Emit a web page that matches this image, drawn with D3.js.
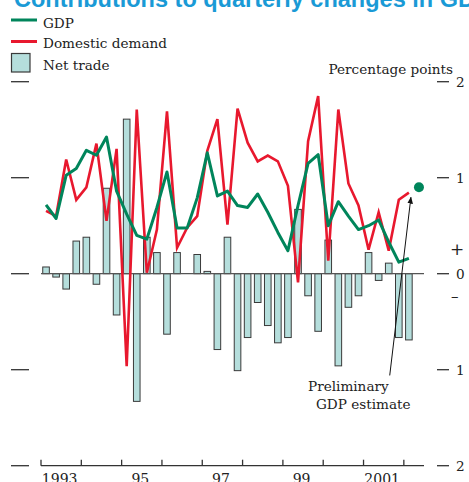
<!DOCTYPE html>
<html>
<head>
<meta charset="utf-8">
<script src="https://cdn.jsdelivr.net/npm/d3@7"></script>
<style>
  html, body { margin: 0; padding: 0; background: #fff; }
  svg { display: block; }
</style>
</head>
<body>
<svg id="chart" width="469" height="482"></svg>
<script>
// ---------- data ----------
const quarters = [
  "1993Q1","1993Q2","1993Q3","1993Q4","1994Q1","1994Q2","1994Q3","1994Q4",
  "1995Q1","1995Q2","1995Q3","1995Q4","1996Q1","1996Q2","1996Q3","1996Q4",
  "1997Q1","1997Q2","1997Q3","1997Q4","1998Q1","1998Q2","1998Q3","1998Q4",
  "1999Q1","1999Q2","1999Q3","1999Q4","2000Q1","2000Q2","2000Q3","2000Q4",
  "2001Q1","2001Q2","2001Q3","2001Q4","2002Q1"
];
const netTrade = [0.07,-0.035,-0.16,0.34,0.38,-0.11,0.89,-0.43,1.61,-1.33,0.38,0.22,-0.63,0.22,0,0.20,0.024,-0.79,0.38,-1.01,-0.665,-0.30,-0.54,-0.72,-0.665,0.67,-0.23,-0.60,0.35,-0.96,-0.35,-0.23,0.22,-0.07,0.11,-0.665,-0.69];
const gdp = [0.717,0.575,1.026,1.095,1.285,1.234,1.424,0.86,0.62,0.40,0.36,0.69,1.06,0.475,0.475,0.79,1.26,0.81,0.86,0.71,0.69,0.83,0.64,0.43,0.24,0.71,1.15,1.24,0.50,0.75,0.60,0.46,0.50,0.56,0.33,0.12,0.16];
const domesticDemand = [0.655,0.60,1.19,0.77,0.90,1.355,0.55,1.30,-0.963,1.71,0.01,0.46,1.69,0.27,0.48,0.60,1.28,1.61,0.51,1.72,1.365,1.17,1.23,1.17,0.915,-0.09,1.38,1.85,0.135,1.71,0.94,0.71,0.25,0.64,0.24,0.77,0.845];
const preliminary = { quarter: "2002Q2", value: 0.90 };
const yearTicks = [1993,1994,1995,1996,1997,1998,1999,2000,2001,2002];
const yearLabels = [
  { year: 1993, label: "1993" }, { year: 1995, label: "95" },
  { year: 1997, label: "97" }, { year: 1999, label: "99" },
  { year: 2001, label: "2001" }
];
const yTicks = [-2,-1,0,1,2];
const yTickLabels = ["2","1","0","1","2"];

// ---------- layout ----------
const svg = d3.select("#chart");
const serif = "'DejaVu Serif', serif";
const fs = 13.6;
const colGreen = "#00855b", colRed = "#e8182e", barFill = "#b5dedc", barStroke = "#3a3a3a";

const qToNum = q => +q.slice(0,4) + (+q.slice(5) - 0.5) / 4;
const x = d3.scaleLinear().domain([1993, 2002.5]).range([41, 424]);
const y = d3.scaleLinear().domain([-2, 2]).range([465.7, 81.7]);

// title (cut off at top)
svg.append("text")
  .attr("x", 14).attr("y", 6.5)
  .attr("font-family", "'Liberation Sans', Arial, sans-serif")
  .attr("font-weight", "bold").attr("font-size", 23.5)
  .attr("fill", "#1a9ad6")
  .text("Contributions to quarterly changes in GDP");

// legend
const lg = svg.append("g").attr("font-family", serif).attr("font-size", fs).attr("fill", "#222");
lg.append("line").attr("x1", 11).attr("x2", 37).attr("y1", 20).attr("y2", 20).attr("stroke", colGreen).attr("stroke-width", 3);
lg.append("text").attr("x", 43).attr("y", 27.5).text("GDP");
lg.append("line").attr("x1", 11).attr("x2", 37).attr("y1", 41.5).attr("y2", 41.5).attr("stroke", colRed).attr("stroke-width", 3);
lg.append("text").attr("x", 43).attr("y", 48).text("Domestic demand");
lg.append("rect").attr("x", 11.5).attr("y", 53.5).attr("width", 18.5).attr("height", 18.5).attr("fill", barFill).attr("stroke", barStroke).attr("stroke-width", 1.2);
lg.append("text").attr("x", 43).attr("y", 69.5).text("Net trade");

svg.append("text").attr("x", 453).attr("y", 74).attr("text-anchor", "end")
  .attr("font-family", serif).attr("font-size", fs).attr("fill", "#222")
  .text("Percentage points");

// y ticks left & right
const yt = svg.append("g").attr("stroke", "#333").attr("stroke-width", 1.3);
yTicks.forEach(v => {
  yt.append("line").attr("x1", 11).attr("x2", 29).attr("y1", y(v)).attr("y2", y(v));
  yt.append("line").attr("x1", 437).attr("x2", 449).attr("y1", y(v)).attr("y2", y(v));
});
const ytl = svg.append("g").attr("font-family", serif).attr("font-size", fs).attr("fill", "#222");
yTicks.forEach((v, i) => {
  ytl.append("text").attr("x", 456).attr("y", y(v) + 5).text(yTickLabels[i]);
});
ytl.append("text").attr("x", 450).attr("y", 255).attr("font-size", 17).text("+");
ytl.append("text").attr("x", 451).attr("y", 301).attr("font-size", 15).text("–");

// bars
const bw = 6.6;
svg.append("g").selectAll("rect").data(netTrade).join("rect")
  .attr("x", (d, i) => x(qToNum(quarters[i])) - bw / 2)
  .attr("y", d => y(Math.max(0, d)))
  .attr("width", bw)
  .attr("height", d => Math.abs(y(d) - y(0)))
  .attr("fill", barFill).attr("stroke", barStroke).attr("stroke-width", 1);

// zero line
svg.append("line").attr("x1", x(1993)).attr("x2", x(2002.5)).attr("y1", y(0)).attr("y2", y(0))
  .attr("stroke", "#555").attr("stroke-width", 1.3);

// lines
const line = d3.line().x((d, i) => x(qToNum(quarters[i]))).y(d => y(d));
svg.append("path").datum(domesticDemand).attr("d", line).attr("fill", "none")
  .attr("stroke", colRed).attr("stroke-width", 2.6).attr("stroke-linejoin", "miter");
svg.append("path").datum(gdp).attr("d", line).attr("fill", "none")
  .attr("stroke", colGreen).attr("stroke-width", 3).attr("stroke-linejoin", "round");

// preliminary dot
svg.append("circle").attr("cx", x(qToNum(preliminary.quarter))).attr("cy", y(preliminary.value))
  .attr("r", 5).attr("fill", colGreen);

// bottom axis
const xa = svg.append("g").attr("stroke", "#333").attr("stroke-width", 1.3);
xa.append("line").attr("x1", x(1993)).attr("x2", x(2002.5)).attr("y1", y(-2)).attr("y2", y(-2));
yearTicks.forEach(yr => {
  xa.append("line").attr("x1", x(yr)).attr("x2", x(yr)).attr("y1", y(-2)).attr("y2", y(-2) - 6);
});
svg.append("g").attr("font-family", serif).attr("font-size", 14).attr("fill", "#222")
  .selectAll("text").data(yearLabels).join("text")
  .attr("x", d => x(d.year + 0.5) - 1.5).attr("y", 484).attr("text-anchor", "middle")
  .text(d => d.label);

// annotation arrow
const ax0 = x(2001.65), ay0 = y(-1.06), ax1 = x(2002.25) - 3, ay1 = y(preliminary.value) + 10;
svg.append("defs").append("marker").attr("id", "ah").attr("viewBox", "0 0 10 10")
  .attr("refX", 9).attr("refY", 5).attr("markerWidth", 7).attr("markerHeight", 7)
  .attr("orient", "auto").append("path").attr("d", "M0,1 L10,5 L0,9 Z").attr("fill", "#111");
svg.append("line").attr("x1", ax0).attr("y1", ay0).attr("x2", ax1).attr("y2", ay1)
  .attr("stroke", "#111").attr("stroke-width", 1).attr("marker-end", "url(#ah)");
const ann = svg.append("g").attr("font-family", serif).attr("font-size", fs).attr("fill", "#222");
ann.append("text").attr("x", 308).attr("y", 391).text("Preliminary");
ann.append("text").attr("x", 316).attr("y", 409).text("GDP estimate");
</script>
</body>
</html>
